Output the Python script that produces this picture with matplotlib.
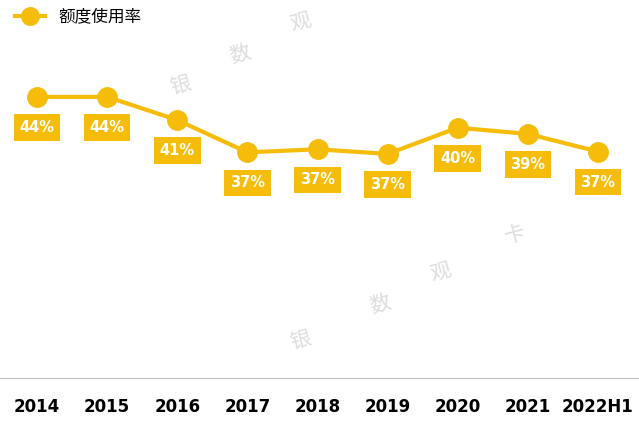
import matplotlib
matplotlib.use("Agg")
import matplotlib.pyplot as plt
from matplotlib import font_manager

categories = ["2014", "2015", "2016", "2017", "2018", "2019", "2020", "2021", "2022H1"]
usage_rate = [44.0, 44.0, 41.0, 36.8, 37.2, 36.6, 40.0, 39.2, 36.9]
value_labels = ["44%", "44%", "41%", "37%", "37%", "37%", "40%", "39%", "37%"]

GOLD = "#F5BD0A"
cjk = [f.name for f in font_manager.fontManager.ttflist if "CJK" in f.name]
CJK = sorted(cjk)[0] if cjk else "DejaVu Sans"
plt.rcParams["font.family"] = ["DejaVu Sans", CJK]

fig = plt.figure(figsize=(6.39, 4.21), dpi=100)
ax = fig.add_axes([0, 0.102, 1, 0.827])
x = list(range(len(categories)))
ax.plot(x, usage_rate, color=GOLD, lw=3, marker="o", ms=14, label="额度使用率", zorder=3)
for xi, v, t in zip(x, usage_rate, value_labels):
    ax.annotate(t, (xi, v), xytext=(0, -22), textcoords="offset points", ha="center", va="center",
                color="white", fontweight="bold", fontsize=10.5,
                bbox=dict(boxstyle="square,pad=0.4", fc=GOLD, ec="none"), zorder=4)

ax.set_xlim(-0.528, 8.585)
ax.set_ylim(7.5, 52.7)
ax.set_xticks(x)
ax.set_xticklabels(categories, fontweight="bold", fontsize=12)
ax.tick_params(length=0, pad=14)
ax.set_yticks([])
for s in ["top", "left", "right"]:
    ax.spines[s].set_visible(False)
ax.spines["bottom"].set_color("#BFBFBF")

# watermarks
marks = [("银", 180, 85), ("数", 240, 55), ("观", 300, 22),
         ("银", 300, 340), ("数", 380, 305), ("观", 440, 272), ("卡", 515, 235)]
for ch, px, py in marks:
    fig.text(px / 639, 1 - py / 421, ch, color="#DDDDDD", fontsize=15, ha="center", va="center",
             rotation=15, family=CJK)

fig.legend(loc="upper left", bbox_to_anchor=(0.0, 1.015), frameon=False,
           prop={"family": CJK, "size": 12}, handlelength=1.8, markerscale=0.9)
fig.savefig("out.png", dpi=100)
